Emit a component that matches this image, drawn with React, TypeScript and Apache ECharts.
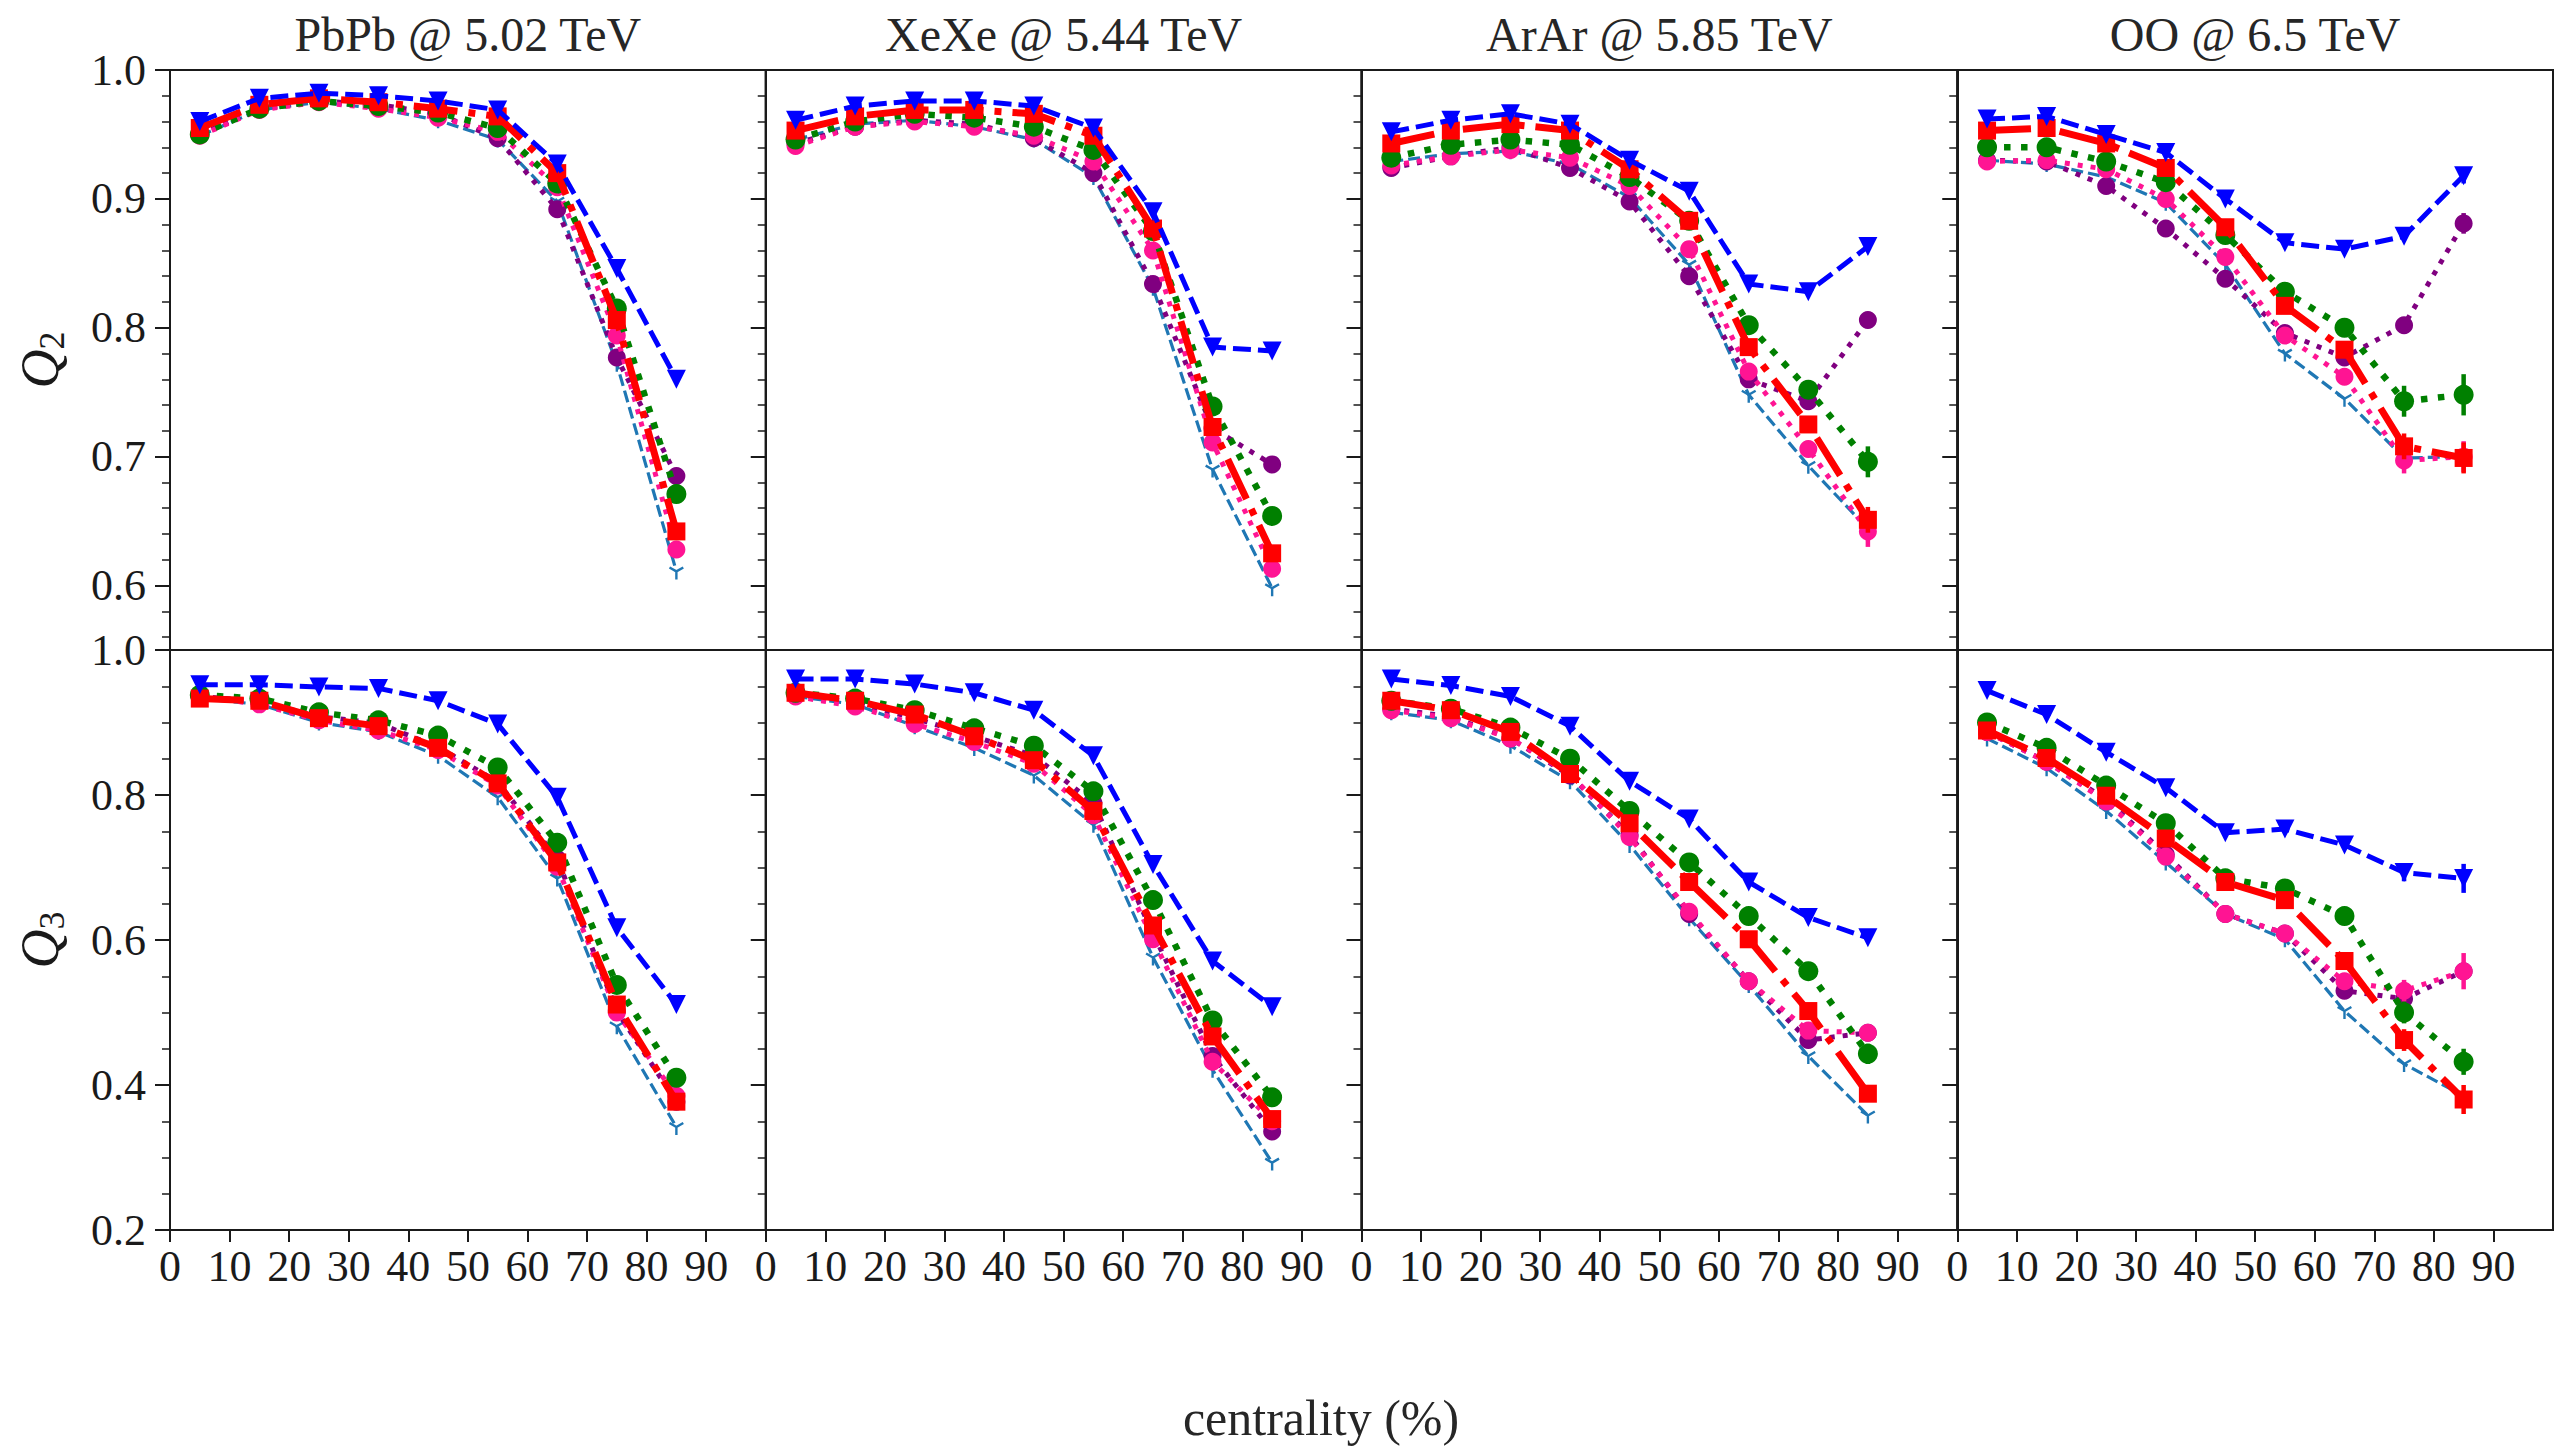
import { useEffect, useRef } from "react";
import * as echarts from "echarts";

// ---- data -------------------------------------------------------------
const CENTRALITY = [5, 15, 25, 35, 45, 55, 65, 75, 85];
const SYSTEMS = ["PbPb @ 5.02 TeV", "XeXe @ 5.44 TeV", "ArAr @ 5.85 TeV", "OO @ 6.5 TeV"];
const X_TICKS = [0, 10, 20, 30, 40, 50, 60, 70, 80, 90];
const Q2_TICKS = [0.6, 0.7, 0.8, 0.9, 1.0];
const Q2_MINOR = [0.56, 0.58, 0.62, 0.64, 0.66, 0.68, 0.72, 0.74, 0.76, 0.78, 0.82, 0.84, 0.86, 0.88, 0.92, 0.94, 0.96, 0.98];
const Q3_TICKS = [0.2, 0.4, 0.6, 0.8, 1.0];
const Q3_MINOR = [0.25, 0.3, 0.35, 0.45, 0.5, 0.55, 0.65, 0.7, 0.75, 0.85, 0.9, 0.95];

// rows: blue, purple, green, red, pink, steel
const PBPB_Q2 = [
  [0.960, 0.978, 0.982, 0.980, 0.976, 0.969, 0.927, 0.846, 0.760],
  [0.950, 0.970, 0.976, 0.973, 0.966, 0.947, 0.892, 0.777, 0.685],
  [0.950, 0.970, 0.976, 0.972, 0.967, 0.955, 0.912, 0.815, 0.671],
  [0.955, 0.973, 0.978, 0.975, 0.970, 0.964, 0.920, 0.806, 0.642],
  [0.949, 0.969, 0.975, 0.970, 0.963, 0.952, 0.909, 0.794, 0.628],
  [0.949, 0.969, 0.975, 0.970, 0.961, 0.946, 0.898, 0.772, 0.611],
];
const XEXE_Q2 = [
  [0.961, 0.972, 0.976, 0.976, 0.972, 0.955, 0.890, 0.785, 0.782],
  [0.943, 0.956, 0.961, 0.958, 0.947, 0.920, 0.834, 0.722, 0.694],
  [0.946, 0.960, 0.966, 0.963, 0.956, 0.938, 0.875, 0.739, 0.654],
  [0.953, 0.964, 0.969, 0.969, 0.966, 0.949, 0.877, 0.723, 0.625],
  [0.941, 0.956, 0.960, 0.956, 0.949, 0.929, 0.860, 0.711, 0.613],
  [0.946, 0.958, 0.961, 0.956, 0.946, 0.917, 0.831, 0.690, 0.598],
];
const ARAR_Q2 = [
  [0.952, 0.961, 0.966, 0.958, 0.930, 0.906, 0.834, 0.828, 0.863],
  [0.924, 0.933, 0.940, 0.924, 0.898, 0.840, 0.760, 0.743, 0.806],
  [0.932, 0.942, 0.946, 0.942, 0.917, 0.883, 0.802, 0.752, 0.696],
  [0.943, 0.953, 0.958, 0.953, 0.923, 0.883, 0.785, 0.725, 0.651],
  [0.926, 0.933, 0.938, 0.932, 0.910, 0.861, 0.766, 0.706, 0.642],
  [0.929, 0.935, 0.937, 0.927, 0.901, 0.849, 0.748, 0.693, 0.644],
];
const OO_Q2 = [
  [0.962, 0.964, 0.950, 0.936, 0.900, 0.866, 0.861, 0.871, 0.918],
  [0.930, 0.929, 0.910, 0.877, 0.838, 0.796, 0.777, 0.802, 0.881],
  [0.940, 0.940, 0.929, 0.913, 0.872, 0.828, 0.800, 0.743, 0.748],
  [0.953, 0.955, 0.943, 0.924, 0.878, 0.817, 0.783, 0.708, 0.699],
  [0.929, 0.930, 0.923, 0.900, 0.855, 0.794, 0.762, 0.697, 0.700],
  [0.930, 0.927, 0.917, 0.897, 0.849, 0.780, 0.745, 0.699, 0.700],
];
const PBPB_Q3 = [
  [0.952, 0.952, 0.949, 0.947, 0.930, 0.898, 0.797, 0.617, 0.511],
  [0.936, 0.929, 0.908, 0.899, 0.866, 0.818, 0.712, 0.502, 0.377],
  [0.938, 0.933, 0.914, 0.903, 0.882, 0.838, 0.734, 0.538, 0.410],
  [0.933, 0.930, 0.906, 0.895, 0.865, 0.816, 0.707, 0.511, 0.377],
  [0.936, 0.925, 0.903, 0.889, 0.862, 0.813, 0.701, 0.500, 0.385],
  [0.933, 0.925, 0.900, 0.887, 0.854, 0.797, 0.685, 0.481, 0.342],
];
const XEXE_Q3 = [
  [0.960, 0.960, 0.953, 0.941, 0.917, 0.854, 0.704, 0.571, 0.508],
  [0.938, 0.927, 0.906, 0.881, 0.854, 0.789, 0.609, 0.440, 0.336],
  [0.941, 0.933, 0.917, 0.892, 0.868, 0.805, 0.655, 0.489, 0.383],
  [0.941, 0.930, 0.911, 0.881, 0.848, 0.778, 0.620, 0.467, 0.353],
  [0.936, 0.922, 0.898, 0.873, 0.843, 0.772, 0.601, 0.432, 0.350],
  [0.936, 0.925, 0.895, 0.865, 0.827, 0.759, 0.576, 0.421, 0.293],
];
const ARAR_Q3 = [
  [0.960, 0.951, 0.936, 0.895, 0.819, 0.767, 0.680, 0.631, 0.603],
  [0.919, 0.908, 0.878, 0.827, 0.745, 0.636, 0.543, 0.462, 0.472],
  [0.930, 0.919, 0.893, 0.850, 0.778, 0.707, 0.633, 0.557, 0.443],
  [0.930, 0.917, 0.887, 0.829, 0.761, 0.680, 0.601, 0.502, 0.388],
  [0.917, 0.906, 0.878, 0.829, 0.742, 0.639, 0.543, 0.475, 0.472],
  [0.914, 0.903, 0.868, 0.819, 0.731, 0.630, 0.538, 0.440, 0.358],
];
const OO_Q3 = [
  [0.944, 0.911, 0.859, 0.810, 0.748, 0.753, 0.731, 0.693, 0.685],
  [0.887, 0.846, 0.794, 0.718, 0.636, 0.609, 0.530, 0.519, 0.557],
  [0.900, 0.865, 0.813, 0.761, 0.685, 0.671, 0.633, 0.500, 0.432],
  [0.889, 0.851, 0.799, 0.740, 0.680, 0.655, 0.571, 0.462, 0.380],
  [0.887, 0.846, 0.791, 0.715, 0.636, 0.609, 0.543, 0.530, 0.557],
  [0.878, 0.837, 0.778, 0.707, 0.636, 0.601, 0.502, 0.429, 0.385],
];

// statistical uncertainties: [row, centrality, half-width]
type Err = [number, number, number];
const PBPB_Q2_ERR: Err[] = [];
const XEXE_Q2_ERR: Err[] = [[1, 85, 0.005]];
const ARAR_Q2_ERR: Err[] = [[1, 85, 0.006], [2, 85, 0.012], [3, 85, 0.01], [4, 85, 0.012]];
const OO_Q2_ERR: Err[] = [
  [0, 85, 0.006], [1, 85, 0.008], [2, 75, 0.012], [2, 85, 0.016],
  [3, 75, 0.01], [3, 85, 0.012], [4, 75, 0.01], [4, 85, 0.012],
];
const PBPB_Q3_ERR: Err[] = [[2, 85, 0.012]];
const XEXE_Q3_ERR: Err[] = [];
const ARAR_Q3_ERR: Err[] = [[1, 85, 0.01], [2, 85, 0.014], [3, 85, 0.01], [4, 85, 0.01]];
const OO_Q3_ERR: Err[] = [
  [0, 75, 0.012], [0, 85, 0.02], [1, 75, 0.01], [2, 65, 0.012], [2, 75, 0.015], [2, 85, 0.018],
  [3, 65, 0.012], [3, 75, 0.015], [3, 85, 0.02], [4, 75, 0.015], [4, 85, 0.025],
];

const PANELS = [
  [PBPB_Q2, XEXE_Q2, ARAR_Q2, OO_Q2],
  [PBPB_Q3, XEXE_Q3, ARAR_Q3, OO_Q3],
];
const PANEL_ERRS = [
  [PBPB_Q2_ERR, XEXE_Q2_ERR, ARAR_Q2_ERR, OO_Q2_ERR],
  [PBPB_Q3_ERR, XEXE_Q3_ERR, ARAR_Q3_ERR, OO_Q3_ERR],
];

// ---- styling ----------------------------------------------------------
const FONT = "Liberation Serif";
const INK = "#1a1a1a";

// three-armed "tri_down" marker
const TRI_DOWN =
  "path://M-0.15,0 L-0.15,1 L0.15,1 L0.15,0 Z " +
  "M0.075,-0.13 L-0.791,-0.63 L-0.941,-0.37 L-0.075,0.13 Z " +
  "M0.075,0.13 L0.941,-0.37 L0.791,-0.63 L-0.075,-0.13 Z";

const LINE_STYLES = [
  { color: "#0000ff", width: 5, dash: [18, 7], symbol: "triangle", rotate: 180, size: 19, offset: [0, 0], z: 8 },
  { color: "#800080", width: 5, dash: [5, 8], symbol: "circle", rotate: 0, size: 18, offset: [0, 0], z: 3 },
  { color: "#008000", width: 6.5, dash: [6.5, 10.5], symbol: "circle", rotate: 0, size: 20, offset: [0, 0], z: 5 },
  { color: "#ff0000", width: 7, dash: [44, 11, 7, 11], symbol: "rect", rotate: 0, size: 18, offset: [0, 0], z: 6 },
  { color: "#ff1493", width: 5, dash: [5, 8], symbol: "circle", rotate: 0, size: 18, offset: [0, 0], z: 4 },
  { color: "#1f77b4", width: 3.2, dash: [12, 5], symbol: TRI_DOWN, rotate: 0, size: [15, 13], offset: [0, 1.5], z: 2 },
];

const GRID_LEFT = 170;
const GRID_RIGHT = 2553;
const ROW_TOPS = [70, 650];
const ROW_H = 580;
const COL_W = (GRID_RIGHT - GRID_LEFT) / 4;

function buildOption() {
  const grid: any[] = [];
  const xAxis: any[] = [];
  const yAxis: any[] = [];
  const series: any[] = [];
  const graphic: any[] = [];

  for (let r = 0; r < 2; r++) {
    for (let c = 0; c < 4; c++) {
      const idx = r * 4 + c;
      const left = GRID_LEFT + c * COL_W;
      grid.push({
        left,
        top: ROW_TOPS[r],
        width: COL_W,
        height: ROW_H,
        show: true,
        borderColor: INK,
        borderWidth: 2,
        backgroundColor: "transparent",
      });
      xAxis.push({
        type: "value",
        gridIndex: idx,
        min: 0,
        max: 100,
        position: "bottom",
        axisLine: { show: true, lineStyle: { color: INK, width: 2 } },
        axisTick: { show: r === 1, customValues: X_TICKS, length: 12, lineStyle: { color: INK, width: 2 } },
        axisLabel: {
          show: r === 1,
          customValues: X_TICKS,
          margin: 14,
          fontSize: 44,
          fontFamily: FONT,
          color: INK,
        },
        splitLine: { show: false },
      });
      const yMin = r === 0 ? 0.55 : 0.2;
      const major = r === 0 ? Q2_TICKS : Q3_TICKS;
      const minor = r === 0 ? Q2_MINOR : Q3_MINOR;
      yAxis.push({
        type: "value",
        gridIndex: idx,
        min: yMin,
        max: 1,
        position: "left",
        axisLine: { show: true, lineStyle: { color: INK, width: 2 } },
        axisTick: { show: true, customValues: major, length: 15, lineStyle: { color: INK, width: 2 } },
        axisLabel: {
          show: c === 0,
          customValues: major,
          formatter: (v: number) => v.toFixed(1),
          margin: 24,
          fontSize: 44,
          fontFamily: FONT,
          color: INK,
          showMinLabel: true,
          showMaxLabel: true,
        },
        splitLine: { show: false },
        name: c === 0 ? `{q|Q}{s|${r === 0 ? 2 : 3}}` : "",
        nameLocation: "middle",
        nameRotate: 90,
        nameGap: 100,
        nameTextStyle: {
          rich: {
            q: { fontSize: 54, fontStyle: "italic", fontFamily: FONT, color: INK, lineHeight: 60, verticalAlign: "middle" },
            s: { fontSize: 36, fontFamily: FONT, color: INK, lineHeight: 30, verticalAlign: "bottom" },
          },
        },
      });
      yAxis.push({
        type: "value",
        gridIndex: idx,
        min: yMin,
        max: 1,
        position: "left",
        axisLine: { show: false },
        axisTick: { show: true, customValues: minor, length: 8, lineStyle: { color: INK, width: 1.5 } },
        axisLabel: { show: false },
        splitLine: { show: false },
      });

      const rows = PANELS[r][c];
      rows.forEach((vals, k) => {
        const st = LINE_STYLES[k];
        series.push({
          type: "line",
          xAxisIndex: idx,
          yAxisIndex: idx * 2,
          data: CENTRALITY.map((x, i) => [x, vals[i]]),
          symbol: st.symbol,
          symbolSize: st.size,
          symbolRotate: st.rotate,
          symbolOffset: st.offset,
          showSymbol: true,
          showAllSymbol: true,
          itemStyle: { color: st.color, borderWidth: 0 },
          lineStyle: { color: st.color, width: st.width, type: st.dash, cap: "butt", join: "round" },
          z: st.z,
          silent: true,
          emphasis: { disabled: true },
        });
      });

      const errs = PANEL_ERRS[r][c];
      errs.forEach(([k, x, e]) => {
        const st = LINE_STYLES[k];
        const v = rows[k][CENTRALITY.indexOf(x)];
        series.push({
          type: "custom",
          xAxisIndex: idx,
          yAxisIndex: idx * 2,
          data: [[x, v, e]],
          z: st.z,
          silent: true,
          renderItem: (_p: any, api: any) => {
            const xv = api.value(0);
            const yv = api.value(1);
            const ev = api.value(2);
            const a = api.coord([xv, yv - ev]);
            const b = api.coord([xv, yv + ev]);
            return {
              type: "line",
              shape: { x1: a[0], y1: a[1], x2: b[0], y2: b[1] },
              style: { stroke: st.color, lineWidth: 4.5 },
            };
          },
        });
      });
    }
  }

  SYSTEMS.forEach((name, c) => {
    graphic.push({
      type: "text",
      x: GRID_LEFT + (c + 0.5) * COL_W,
      y: 34,
      style: {
        text: name,
        fontSize: 48,
        fontFamily: FONT,
        fill: "#262626",
        align: "center",
        verticalAlign: "middle",
      },
    });
  });
  graphic.push({
    type: "text",
    x: 1321,
    y: 1418,
    style: {
      text: "centrality (%)",
      fontSize: 50,
      fontFamily: FONT,
      fill: "#262626",
      align: "center",
      verticalAlign: "middle",
    },
  });

  return {
    animation: false,
    backgroundColor: "#ffffff",
    grid,
    xAxis,
    yAxis,
    series,
    graphic,
  };
}

export default function App() {
  const ref = useRef<HTMLDivElement>(null);
  useEffect(() => {
    if (!ref.current) return;
    const chart = echarts.init(ref.current, null, { renderer: "svg" });
    chart.setOption(buildOption());
    return () => chart.dispose();
  }, []);
  return (
    <div
      ref={ref}
      style={{ position: "fixed", left: 0, top: 0, width: 2561, height: 1446, background: "#ffffff" }}
    />
  );
}
